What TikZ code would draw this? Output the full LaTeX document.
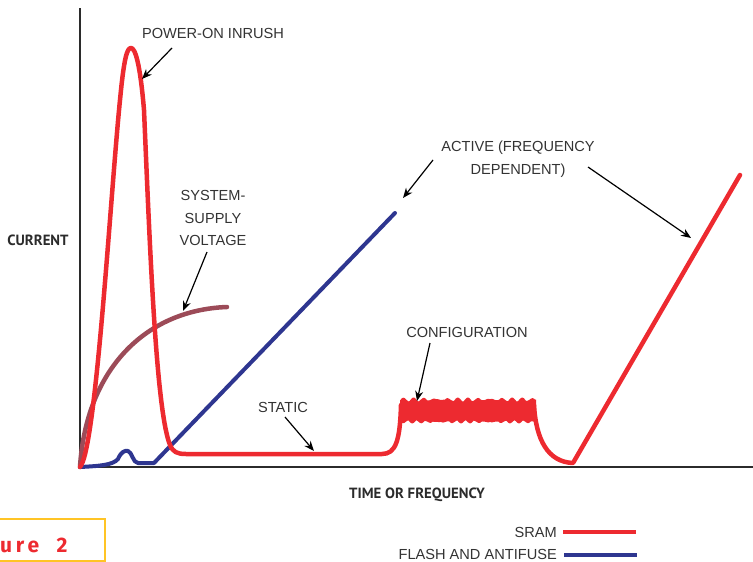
\documentclass[tikz,border=0pt]{standalone}
\usepackage{fontspec}
\setmainfont{Liberation Sans}
\newfontfamily\axisfont{PT Sans}
\newfontfamily\figfont{Fira Sans}[LetterSpace=18]
\usetikzlibrary{arrows.meta}
\definecolor{sramred}{HTML}{ED2A30}
\definecolor{flashblue}{HTML}{2E3690}
\definecolor{supplyrose}{HTML}{9C4B58}
\definecolor{axisgray}{HTML}{2B2B2B}
\definecolor{labelgray}{HTML}{333333}
\definecolor{figyellow}{HTML}{FFC425}

\begin{document}
\begin{tikzpicture}[
  x=1pt,
  y=-1pt,
  every node/.style={font=\fontsize{14.6}{22.5}\selectfont, text=labelgray, inner sep=0pt, align=center},
  callout/.style={-{Stealth[length=10pt,width=8pt]}, black, line width=1.2pt},
  axislabel/.style={font=\axisfont\bfseries\fontsize{14.8}{16}\selectfont, text=axisgray},
  curve/.style={line width=4.5pt, line cap=round, line join=round}
]
  \useasboundingbox (0,0) rectangle (753,562);

  \draw[axisgray, line width=2pt] (80,8) -- (80,467) -- (753,467);

  \node[axislabel] (currentlbl) at (38,240) {CURRENT};
  \node[axislabel] (timelbl) at (417,495) {TIME OR FREQUENCY};

  % system supply
  \draw[curve, supplyrose] (80,467) .. controls (86,370) and (145,310) .. (227,307);

  % flash and antifuse
  \draw[curve, flashblue, line width=4pt] (80,467) .. controls (100,466) and (113,465) .. (118,459)
    .. controls (121,452) and (125,450) .. (128,451) .. controls (132,452) and (133,463) .. (138,463)
    -- (154,463) -- (395,213);

  % sram
  \draw[curve, sramred] (80,467) .. controls (96,450) and (110,200) .. (120,100)
    .. controls (124,58) and (127,48) .. (131,48) .. controls (135,48) and (140,62) .. (144,110)
    .. controls (150,250) and (156,410) .. (170,445) .. controls (173,452) and (177,454) .. (186,454)
    -- (382,454) .. controls (396,454) and (400,440) .. (401,405);
  \fill[sramred] plot[domain=400:536, samples=200, smooth] (\x, {400.5-1.8*abs(sin(20*(\x-400)))-1.2*sin(33*(\x-400))})
    -- plot[domain=536:400, samples=200, smooth] (\x, {421+1.6*abs(sin(22*(\x-400)))+0.8*sin(37*(\x-400))}) -- cycle;
  \draw[curve, sramred] (534,405) .. controls (536,440) and (548,462) .. (573,463) -- (740,175);

  \node (inrushlbl) at (213,33) {POWER-ON INRUSH};
  \node (supplylbl) at (213,218) {SYSTEM-\\SUPPLY\\VOLTAGE};
  \node (activelbl) at (518,159) {ACTIVE (FREQUENCY\\DEPENDENT)};
  \node (staticlbl) at (283,407) {STATIC};
  \node (configlbl) at (467,332) {CONFIGURATION};

  \coordinate (inrushtail) at (172,48);
  \coordinate (inrushtip) at (142,79);
  \coordinate (supplytail) at (207,252);
  \coordinate (supplytip) at (183,311);
  \coordinate (activetailA) at (433,160);
  \coordinate (activetipA) at (403,198);
  \coordinate (activetailB) at (588,167);
  \coordinate (activetipB) at (691,238);
  \coordinate (statictail) at (285,417);
  \coordinate (statictip) at (314,451);
  \coordinate (configtail) at (430,343);
  \coordinate (configtip) at (417,401);

  \draw[callout] (inrushtail) -- (inrushtip);
  \draw[callout] (supplytail) -- (supplytip);
  \draw[callout] (activetailA) -- (activetipA);
  \draw[callout] (activetailB) -- (activetipB);
  \draw[callout] (statictail) -- (statictip);
  \draw[callout] (configtail) -- (configtip);

  % legend
  \node[anchor=east] (sramlbl) at (557,532) {SRAM};
  \node[anchor=east] (flashlbl) at (557,554) {FLASH AND ANTIFUSE};
  \coordinate (sramend) at (636,532);
  \coordinate (flashend) at (637,555);
  \draw[sramred, line width=4pt] ([xshift=6pt]sramlbl.east) -- (sramend);
  \draw[flashblue, line width=4pt] ([xshift=7pt,yshift=-1pt]flashlbl.east) -- (flashend);

  \draw[figyellow, line width=2pt] (-6,519) rectangle (105,561);
  \node[anchor=west, text=sramred, font=\figfont\bfseries\fontsize{21}{22}\selectfont] (figlbl) at (0,545) {ure~~2};
\end{tikzpicture}
\end{document}
